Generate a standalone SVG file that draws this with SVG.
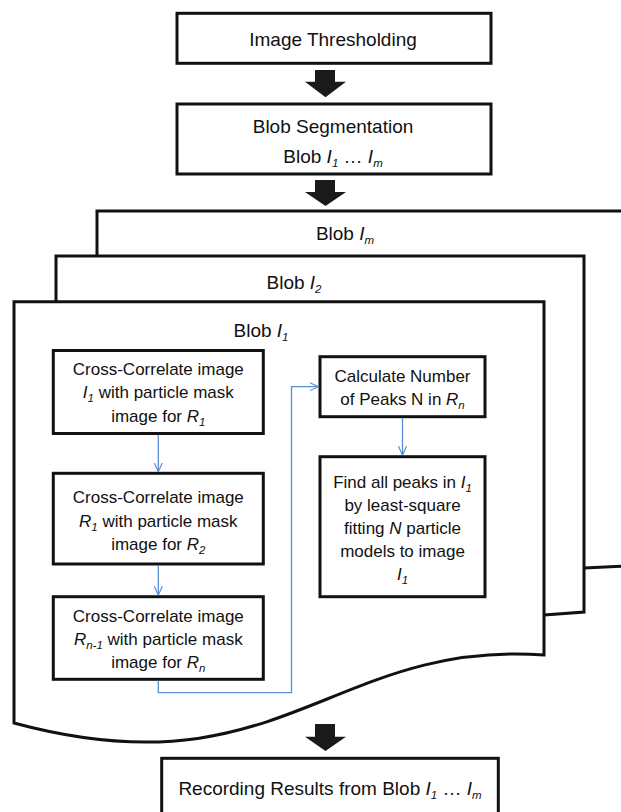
<svg xmlns="http://www.w3.org/2000/svg" width="621" height="812" viewBox="0 0 621 812">
<defs>
<style>
.box{fill:#fff;stroke:#111;stroke-width:3}
.doc{fill:#fff;stroke:#111;stroke-width:3;stroke-linejoin:miter}
.blk{fill:#1a1a1a}
.t{font-family:'Liberation Sans',Arial,sans-serif;fill:#111;text-anchor:middle}
.t19{font-size:19px}
.t17{font-size:17px}
.i{font-style:italic}
.s{font-size:11.5px;font-style:italic}
.c{fill:none;stroke:#5b8fd4;stroke-width:1.3}
</style>
<marker id="ah" viewBox="0 0 10 10" refX="10" refY="5" markerWidth="9" markerHeight="9" markerUnits="userSpaceOnUse" orient="auto">
<path d="M0,0.5 L10,5 L0,9.5" fill="none" stroke="#5b8fd4" stroke-width="1.3"/>
</marker>
</defs>
<rect width="621" height="812" fill="#fff"/>

<g id="image-thresholding">
<rect class="box" x="177" y="13.3" width="314" height="50"/>
<text class="t t19" x="333" y="46">Image Thresholding</text>
</g>

<g id="blob-segmentation">
<rect class="box" x="177" y="104" width="314" height="70"/>
<text class="t t19" x="333" y="133">Blob Segmentation</text>
<text class="t t19" x="333" y="163">Blob <tspan class="i">I</tspan><tspan class="s" dy="4">1</tspan><tspan dy="-4"> … </tspan><tspan class="i">I</tspan><tspan class="s" dy="4">m</tspan></text>
</g>

<g id="blob-m">
<path class="doc" d="M97,211 H650 V565 L584,568 C450,575 300,600 97,600 Z"/>
<text class="t t19" x="345" y="239.5">Blob <tspan class="i">I</tspan><tspan class="s" dy="4">m</tspan></text>
</g>

<g id="blob-2">
<path class="doc" d="M56,256 H584 V612 L544,615 C400,625 300,690 56,680 Z"/>
<text class="t t19" x="294" y="288.5">Blob <tspan class="i">I</tspan><tspan class="s" dy="4">2</tspan></text>
</g>

<g id="blob-1">
<path class="doc" d="M14,301.7 H544 V655 C330,640 280,795 14,723 Z"/>
<text class="t t19" x="261" y="336.7">Blob <tspan class="i">I</tspan><tspan class="s" dy="4">1</tspan></text>
</g>

<g id="cross-correlate-1">
<rect class="box" x="53.3" y="350.5" width="210" height="83"/>
<text class="t t17" x="158.3" y="375">Cross-Correlate image</text>
<text class="t t17" x="158.3" y="398.3"><tspan class="i">I</tspan><tspan class="s" dy="4">1</tspan><tspan dy="-4"> with particle mask</tspan></text>
<text class="t t17" x="158.3" y="421.7">image for <tspan class="i">R</tspan><tspan class="s" dy="4">1</tspan></text>
</g>

<g id="cross-correlate-2">
<rect class="box" x="53.3" y="473.3" width="210" height="90.7"/>
<text class="t t17" x="158.3" y="503.3">Cross-Correlate image</text>
<text class="t t17" x="158.3" y="526.6"><tspan class="i">R</tspan><tspan class="s" dy="4">1</tspan><tspan dy="-4"> with particle mask</tspan></text>
<text class="t t17" x="158.3" y="550">image for <tspan class="i">R</tspan><tspan class="s" dy="4">2</tspan></text>
</g>

<g id="cross-correlate-n">
<rect class="box" x="53.3" y="596.7" width="210" height="82.6"/>
<text class="t t17" x="158.3" y="621.7">Cross-Correlate image</text>
<text class="t t17" x="158.3" y="645"><tspan class="i">R</tspan><tspan class="s" dy="4">n-1</tspan><tspan dy="-4"> with particle mask</tspan></text>
<text class="t t17" x="158.3" y="668.3">image for <tspan class="i">R</tspan><tspan class="s" dy="4">n</tspan></text>
</g>

<g id="calculate-peaks">
<rect class="box" x="320" y="356.7" width="165" height="60"/>
<text class="t t17" x="402.5" y="381.7">Calculate Number</text>
<text class="t t17" x="402.5" y="405">of Peaks N in <tspan class="i">R</tspan><tspan class="s" dy="4">n</tspan></text>
</g>

<g id="find-peaks">
<rect class="box" x="320" y="456.7" width="165" height="140"/>
<text class="t t17" x="402.5" y="488">Find all peaks in <tspan class="i">I</tspan><tspan class="s" dy="4">1</tspan></text>
<text class="t t17" x="402.5" y="510.5">by least-square</text>
<text class="t t17" x="402.5" y="533.5">fitting <tspan class="i">N</tspan> particle</text>
<text class="t t17" x="402.5" y="556.5">models to image</text>
<text class="t t17" x="402.5" y="580"><tspan class="i">I</tspan><tspan class="s" dy="4">1</tspan></text>
</g>

<g id="recording-results">
<rect class="box" x="161.7" y="758.3" width="336.6" height="70"/>
<text class="t t19" x="330" y="795">Recording Results from Blob <tspan class="i">I</tspan><tspan class="s" dy="4">1</tspan><tspan dy="-4"> … </tspan><tspan class="i">I</tspan><tspan class="s" dy="4">m</tspan></text>
</g>

<g id="connectors">
<path class="blk" d="M315,70 H335 V81.7 H346 L325.5,97.3 L305,81.7 H315 Z"/>
<path class="blk" d="M315,180 H335 V192 H346 L325.5,206 L305,192 H315 Z"/>
<path class="blk" d="M315,724 H335 V736.7 H346 L325.5,751 L305,736.7 H315 Z"/>
<path class="c" d="M158.3,434.8 V471.8" marker-end="url(#ah)"/>
<path class="c" d="M158.3,565.5 V595.2" marker-end="url(#ah)"/>
<path class="c" d="M158.3,680.8 V692.7 H291.5 V386.7 H318.5" marker-end="url(#ah)"/>
<path class="c" d="M402.5,418.2 V455.2" marker-end="url(#ah)"/>
</g>
</svg>
